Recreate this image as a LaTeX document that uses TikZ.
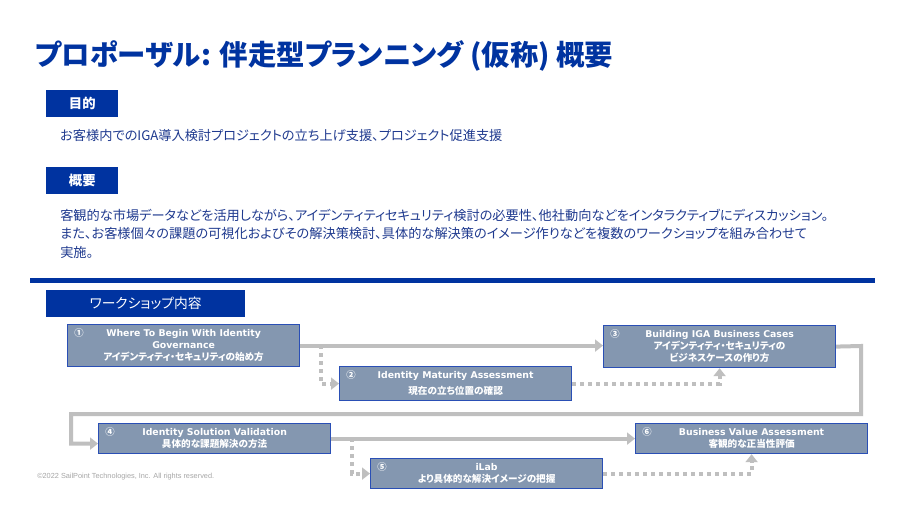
\documentclass[tikz,border=0pt]{standalone}
\usepackage{fontspec}
\setmainfont[RawFeature=+palt]{Noto Sans CJK JP}
\newfontfamily\lat{DejaVu Sans}
\newfontfamily\footfont{Liberation Sans}
\usetikzlibrary{arrows.meta,calc}
\definecolor{spblue}{HTML}{0033A0}
\definecolor{txtblue}{HTML}{1F3A8F}
\definecolor{boxfill}{HTML}{8497B0}
\definecolor{boxline}{HTML}{2A4FB5}
\definecolor{conn}{HTML}{BFBFBF}
\definecolor{footgray}{HTML}{A6A6A6}
\newcommand\en[1]{{\lat\bfseries\fontsize{7}{9}\selectfont #1}}
\tikzset{
  headbox/.style={fill=spblue, text=white, inner sep=0pt, anchor=north west,
    minimum height=20pt, font=\bfseries\fontsize{10}{12}\selectfont},
  para/.style={anchor=west, text=txtblue, inner sep=0pt, font=\fontsize{9.9}{11}\selectfont},
  wsbox/.style={fill=boxfill, draw=boxline, line width=0.9pt, anchor=north west,
    minimum width=174pt, text=white, align=center, inner sep=0pt,
    font=\bfseries\fontsize{7.2}{9}\selectfont},
  numlabel/.style={text=white, inner sep=0pt, anchor=north west, font=\bfseries\fontsize{7}{8}\selectfont},
  solidc/.style={draw=conn, line width=3pt, -{Triangle[length=6pt,width=9pt]}},
  dotc/.style={draw=conn, line width=3pt, dash pattern=on 3pt off 3pt, -{Triangle[length=6pt,width=9pt]}},
}
\begin{document}
\begin{tikzpicture}[x=0.75pt,y=-0.75pt]
\useasboundingbox (0,0) rectangle (900,506);
\fill[white] (0,0) rectangle (900,506);

% title
\node[anchor=west, inner sep=0pt, text=spblue, font=\bfseries\fontsize{21.3}{24}\selectfont] (title) at (35,56)
  {プロポーザル: 伴走型プランニング (仮称) 概要};

% purpose
\node[headbox, minimum width=54pt] (h1) at (46,90) {目的};
\node[para] (t1) at (60,136) {お客様内でのIGA導入検討プロジェクトの立ち上げ支援、プロジェクト促進支援};

% overview
\node[headbox, minimum width=54pt] (h2) at (46,167) {概要};
\node[para] (t2) at (60,215) {客観的な市場データなどを活用しながら、アイデンティティセキュリティ検討の必要性、他社動向などをインタラクティブにディスカッション。};
\node[para] (t3) at (60,233.5) {また、お客様個々の課題の可視化およびその解決策検討、具体的な解決策のイメージ作りなどを複数のワークショップを組み合わせて};
\node[para] (t4) at (60,252) {実施。};

% rule
\fill[spblue] (30,278) rectangle (875,283);

% workshop header
\node[headbox, minimum width=149pt, font=\fontsize{10.3}{12}\selectfont] (h3) at (46,290) {ワークショップ内容};

% boxes
\node[wsbox, minimum height=31.5pt] (b1) at (67,324)
  {\en{Where To Begin With Identity}\\\en{Governance}\\アイデンティティ・セキュリティの始め方};
\node[wsbox, minimum height=25.5pt, font=\bfseries\fontsize{7.2}{12}\selectfont] (b2) at (339,366)
  {\en{Identity Maturity Assessment}\\現在の立ち位置の確認};
\node[wsbox, minimum height=31.5pt] (b3) at (603,325)
  {\en{Building IGA Business Cases}\\アイデンティティ・セキュリティの\\ビジネスケースの作り方};
\node[wsbox, minimum height=22.5pt] (b4) at (98,423)
  {\en{Identity Solution Validation}\\具体的な課題解決の方法};
\node[wsbox, minimum height=22.5pt] (b5) at (370,458)
  {\en{iLab}\\より具体的な解決イメージの把握};
\node[wsbox, minimum height=22.5pt] (b6) at (635,423)
  {\en{Business Value Assessment}\\客観的な正当性評価};

\node[numlabel] (n1) at ($(b1.north west)+(7,4)$) {①};
\node[numlabel] (n2) at ($(b2.north west)+(7,4)$) {②};
\node[numlabel] (n3) at ($(b3.north west)+(7,4)$) {③};
\node[numlabel] (n4) at ($(b4.north west)+(7,4)$) {④};
\node[numlabel] (n5) at ($(b5.north west)+(7,4)$) {⑤};
\node[numlabel] (n6) at ($(b6.north west)+(7,4)$) {⑥};

% connectors
\draw[solidc] (b1.east) -- (b1.east -| b3.west);
\coordinate (d1) at (321,345);
\draw[dotc] (d1) |- (b2.west);
\draw[dotc] (b2.east) -| (b3.south);
\coordinate (r1) at (861,346);
\coordinate (r2) at (861,414);
\coordinate (r3) at (71,414);
\coordinate (e4) at ($(b4.west)+(0,5)$);
\draw[draw=conn, line width=3pt, -{Triangle[length=6pt,width=9pt]}]
  (b3.east) -- (r1) -- (r2) -- (r3) |- (e4);
\draw[solidc] (b4.east) -- (b4.east -| b6.west);
\coordinate (d2) at (352,438);
\draw[dotc] (d2) |- (b5.west);
\draw[dotc] (b5.east) -| (b6.south);

% footer
\node[anchor=west, inner sep=0pt, text=footgray, font=\footfont\fontsize{5.5}{6.5}\selectfont] (foot) at (37,477)
  {©2022 SailPoint Technologies, Inc. All rights reserved.};
\end{tikzpicture}
\end{document}
